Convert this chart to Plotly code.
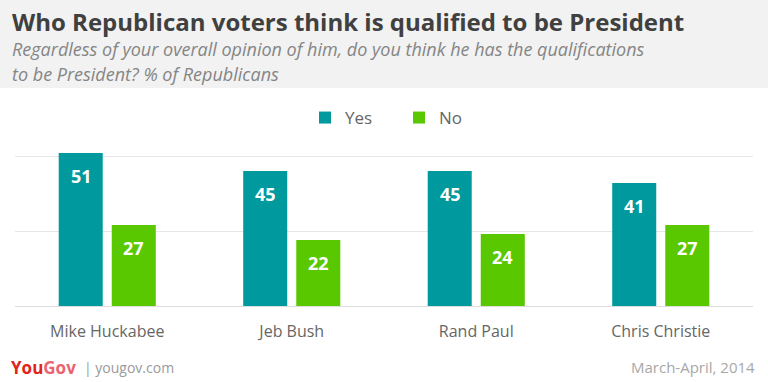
import plotly.graph_objects as go

categories = ["Mike Huckabee", "Jeb Bush", "Rand Paul", "Chris Christie"]
yes_values = [51, 45, 45, 41]
no_values = [27, 22, 24, 27]
series_names = ["Yes", "No"]
y_ticks = [0, 25, 50]

TEAL = "#009a9e"
GREEN = "#5ac800"
FONT = "Open Sans"

W, H = 768, 382
PLOT_TOP, PLOT_BOTTOM = 150, 306
PH = PLOT_BOTTOM - PLOT_TOP


def py(pixel_y):
    return (PLOT_BOTTOM - pixel_y) / PH


def px(pixel_x):
    return (pixel_x - 15) / (W - 30)


fig = go.Figure()
fig.add_trace(go.Bar(x=categories, y=yes_values, name=series_names[0],
                     marker=dict(color=TEAL, line=dict(width=0))))
fig.add_trace(go.Bar(x=categories, y=no_values, name=series_names[1],
                     marker=dict(color=GREEN, line=dict(width=0))))

annotations = []
for vals, shift in ((yes_values, -26), (no_values, 26.5)):
    for c, v in zip(categories, vals):
        annotations.append(dict(x=c, y=v, xref="x", yref="y", text=f"<b>{v}</b>",
                                showarrow=False, xshift=shift, yshift=-23,
                                yanchor="middle",
                                font=dict(family=FONT, size=18, color="white")))

annotations += [
    dict(x=px(10), y=py(21), xref="paper", yref="paper", xanchor="left", yanchor="middle",
         text="<b>Who Republican voters think is qualified to be President</b>",
         showarrow=False, font=dict(family=FONT, size=24, color="#404040")),
    dict(x=px(10), y=py(49), xref="paper", yref="paper", xanchor="left", yanchor="middle",
         text="<i>Regardless of your overall opinion of him, do you think he has the qualifications</i>",
         showarrow=False, font=dict(family=FONT, size=18, color="#858585")),
    dict(x=px(10), y=py(74), xref="paper", yref="paper", xanchor="left", yanchor="middle",
         text="<i>to be President? % of Republicans</i>",
         showarrow=False, font=dict(family=FONT, size=18, color="#858585")),
    dict(x=px(9), y=py(367), xref="paper", yref="paper", xanchor="left", yanchor="middle",
         text="<b><span style='color:#e2231a'>You</span><span style='color:#ea6470'>Gov</span></b>",
         showarrow=False, font=dict(family=FONT, size=17)),
    dict(x=px(82), y=py(367), xref="paper", yref="paper", xanchor="left", yanchor="middle",
         text="| yougov.com", showarrow=False,
         font=dict(family=FONT, size=14, color="#9a9a9a")),
    dict(x=px(757), y=py(367), xref="paper", yref="paper", xanchor="right", yanchor="middle",
         text="March-April, 2014", showarrow=False,
         font=dict(family=FONT, size=15, color="#a8a8a8")),
]

fig.update_layout(
    width=W, height=H,
    margin=dict(l=15, r=15, t=PLOT_TOP, b=H - PLOT_BOTTOM, pad=0),
    paper_bgcolor="white", plot_bgcolor="white",
    barmode="group", bargap=0.425, bargroupgap=0.17,
    showlegend=True,
    legend=dict(orientation="h", x=px(305), xanchor="left", y=py(118), yanchor="middle",
                font=dict(family=FONT, size=17, color="#666666"),
                entrywidth=49, entrywidthmode="pixels", itemclick=False),
    xaxis=dict(showgrid=False, showline=False, ticks="", ticklabelstandoff=14,
               tickfont=dict(family=FONT, size=16, color="#666666"), fixedrange=True),
    yaxis=dict(range=[0, PH / 3], tickvals=y_ticks, showticklabels=False, ticks="",
               showgrid=True, gridcolor="#e6e6e6", gridwidth=1,
               zeroline=True, zerolinecolor="#dddddd", zerolinewidth=1, showline=False),
    shapes=[dict(type="rect", xref="paper", yref="paper", x0=-1, x1=2, y0=py(88), y1=py(0),
                 fillcolor="#f2f2f2", line=dict(width=0), layer="below")],
    annotations=annotations,
)

fig.write_html("out.html", config={"displayModeBar": False},
               post_script="document.body.style.margin='0';document.body.style.padding='0';")
